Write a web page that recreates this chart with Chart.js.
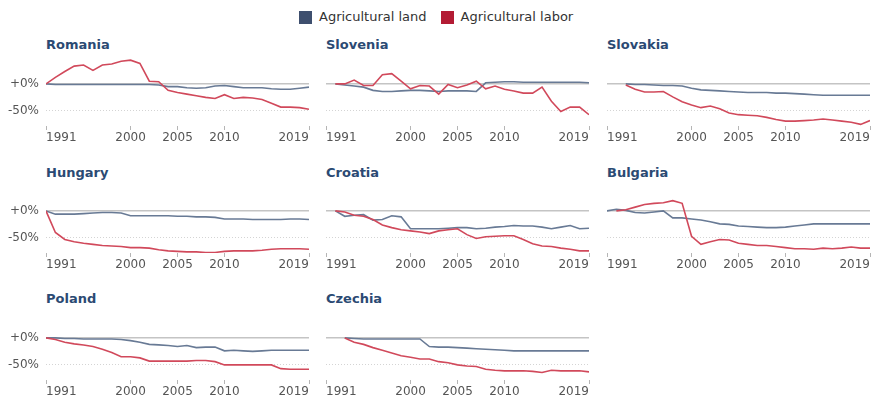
<!DOCTYPE html>
<html>
<head>
<meta charset="utf-8">
<script src="https://cdn.jsdelivr.net/npm/chart.js@4.4.0/dist/chart.umd.min.js"></script>
<style>
	body { margin: 0; width: 873px; height: 396px; overflow: hidden; background: #fff; position: relative; font-family: "DejaVu Sans", sans-serif; }
	canvas { position: absolute; }
	.ttl { position: absolute; font-weight: bold; font-size: 13px; line-height: 15px; color: #2b4a73; white-space: nowrap; }
	#legend { position: absolute; left: 299px; top: 9px; display: flex; align-items: center; font-size: 13px; line-height: 16px; color: #333; white-space: nowrap; }
	#legend .sw { width: 13px; height: 13px; margin-right: 7px; }
</style>
</head>
<body>
<div id="legend">
	<span class="sw" style="background:#3e4f6e"></span><span style="margin-right:14px">Agricultural land</span>
	<span class="sw" style="background:#b31b34"></span><span>Agricultural labor</span>
</div>

<div class="ttl" style="left:46px;top:37px">Romania</div>
<div class="ttl" style="left:326px;top:37px">Slovenia</div>
<div class="ttl" style="left:607px;top:37px">Slovakia</div>
<div class="ttl" style="left:46px;top:165px">Hungary</div>
<div class="ttl" style="left:326px;top:165px">Croatia</div>
<div class="ttl" style="left:607px;top:165px">Bulgaria</div>
<div class="ttl" style="left:46px;top:291px">Poland</div>
<div class="ttl" style="left:326px;top:291px">Czechia</div>

<canvas id="romania" width="311" height="90" style="left:0px;top:56px"></canvas>
<canvas id="slovenia" width="311" height="90" style="left:280px;top:56px"></canvas>
<canvas id="slovakia" width="311" height="90" style="left:561px;top:56px"></canvas>
<canvas id="hungary" width="311" height="90" style="left:0px;top:183px"></canvas>
<canvas id="croatia" width="311" height="90" style="left:280px;top:183px"></canvas>
<canvas id="bulgaria" width="311" height="90" style="left:561px;top:183px"></canvas>
<canvas id="poland" width="311" height="90" style="left:0px;top:310px"></canvas>
<canvas id="czechia" width="311" height="90" style="left:280px;top:310px"></canvas>

<script>
// change since 1991 (%), one value per year, null = no data
var years = [1991, 1992, 1993, 1994, 1995, 1996, 1997, 1998, 1999, 2000,
	2001, 2002, 2003, 2004, 2005, 2006, 2007, 2008, 2009, 2010,
	2011, 2012, 2013, 2014, 2015, 2016, 2017, 2018, 2019];
var xTicks = [1991, 2000, 2005, 2010, 2019];
var yTicks = [-50, 0];

var romaniaLand = [0, -1, -1, -1, -1, -1, -1, -1, -1, -1, -1, -1, -2, -5, -5, -7, -8, -7, -4, -3, -5, -7, -7, -7, -9, -10, -10, -8, -6];
var romaniaLabor = [0, 12, 23, 33, 35, 25, 35, 37, 42, 44, 38, 5, 4, -12, -16, -19, -22, -25, -27, -20, -27, -25, -26, -29, -36, -43, -43, -44, -47];

var sloveniaLand = [null, 0, -2, -4, -6, -12, -14, -14, -13, -12, -12, -13, -14, -13, -13, -13, -14, 2, 3, 4, 4, 3, 3, 3, 3, 3, 3, 3, 2];
var sloveniaLabor = [null, 0, 0, 7, -3, -3, 17, 19, 5, -9, -3, -4, -19, -1, -7, -2, 5, -9, -4, -10, -13, -17, -17, -6, -32, -51, -43, -43, -57];

var slovakiaLand = [null, null, 0, -1, -1, -2, -3, -3, -4, -8, -11, -12, -13, -14, -15, -16, -16, -16, -17, -17, -18, -19, -20, -21, -21, -21, -21, -21, -21];
var slovakiaLabor = [null, null, -2, -10, -15, -15, -14, -24, -33, -39, -44, -41, -46, -54, -57, -58, -59, -62, -66, -69, -69, -68, -67, -65, -67, -69, -71, -75, -68];

var hungaryLand = [0, -6, -6, -6, -5, -4, -3, -3, -4, -9, -9, -9, -9, -9, -10, -10, -11, -11, -12, -15, -15, -15, -16, -16, -16, -16, -15, -15, -16];
var hungaryLabor = [0, -40, -53, -57, -60, -62, -64, -65, -66, -68, -68, -69, -72, -74, -75, -76, -76, -77, -77, -75, -74, -74, -74, -73, -71, -70, -70, -70, -71];

var croatiaLand = [null, 0, -10, -8, -7, -17, -16, -9, -11, -33, -33, -33, -33, -32, -31, -31, -33, -32, -30, -29, -27, -28, -28, -30, -33, -30, -27, -33, -32];
var croatiaLabor = [null, 0, -2, -8, -10, -16, -26, -31, -35, -37, -39, -42, -37, -35, -33, -44, -51, -48, -47, -46, -46, -53, -61, -65, -66, -69, -71, -74, -74];

var bulgariaLand = [0, 3, 1, -3, -4, -2, 0, -13, -13, -15, -17, -20, -24, -25, -28, -29, -30, -31, -31, -30, -28, -26, -24, -24, -24, -24, -24, -24, -24];
var bulgariaLabor = [null, 0, 2, 7, 12, 14, 15, 19, 14, -47, -62, -57, -53, -54, -60, -62, -64, -64, -66, -68, -70, -70, -71, -69, -70, -69, -67, -69, -69];

var polandLand = [0, 0, -1, -1, -2, -2, -2, -2, -3, -5, -8, -12, -13, -14, -16, -14, -18, -17, -17, -24, -23, -24, -25, -24, -23, -23, -23, -23, -23];
var polandLabor = [0, -3, -8, -11, -13, -16, -21, -27, -35, -35, -37, -43, -43, -43, -43, -43, -42, -42, -44, -50, -50, -50, -50, -50, -50, -57, -58, -58, -58];

var czechiaLand = [null, null, 0, -1, -2, -2, -2, -2, -2, -2, -2, -16, -17, -17, -18, -19, -20, -21, -22, -23, -24, -24, -24, -24, -24, -24, -24, -24, -24];
var czechiaLabor = [null, null, 0, -8, -12, -18, -23, -28, -33, -36, -39, -39, -44, -46, -50, -52, -53, -58, -60, -61, -61, -61, -62, -64, -60, -61, -61, -61, -63];

var landColor = '#687a95';
var laborColor = '#d1495b';

function toPoints(arr) {
	return arr.map(function (v, i) { return { x: years[i], y: v }; });
}

function drawPanel(id, land, labor, showY) {
	new Chart(document.getElementById(id), {
		type: 'line',
		data: {
			datasets: [{
				label: 'Agricultural labor',
				data: toPoints(labor),
				borderColor: laborColor,
				borderWidth: 1.6,
				pointRadius: 0,
				tension: 0
			}, {
				label: 'Agricultural land',
				data: toPoints(land),
				borderColor: landColor,
				borderWidth: 1.6,
				pointRadius: 0,
				tension: 0
			}]
		},
		options: {
			responsive: false,
			animation: false,
			devicePixelRatio: 1,
			layout: { padding: { top: 2, right: 2, bottom: 0, left: 0 } },
			scales: {
				x: {
					type: 'linear',
					min: 1991,
					max: 2019,
					afterBuildTicks: function (s) { s.ticks = xTicks.map(function (v) { return { value: v }; }); },
					afterFit: function (s) { s.height = 20; s.paddingLeft = 0; s.paddingRight = 0; },
					border: { display: false },
					grid: {
						drawOnChartArea: false,
						drawTicks: true,
						tickLength: 4,
						tickColor: '#b5b5b5'
					},
					ticks: {
						align: 'inner',
						autoSkip: false,
						maxRotation: 0,
						padding: 1,
						color: '#555',
						font: { family: 'DejaVu Sans', size: 12 },
						callback: function (v) { return String(v); }
					}
				},
				y: {
					min: -78,
					max: 48,
					afterBuildTicks: function (s) { s.ticks = yTicks.map(function (v) { return { value: v }; }); },
					afterFit: function (s) { s.width = 46; s.paddingTop = 0; s.paddingBottom = 0; },
					border: {
						display: false,
						dash: function (ctx) { return (ctx.tick && ctx.tick.value === -50) ? [1, 2] : []; }
					},
					grid: {
						drawTicks: false,
						color: function (ctx) { return (ctx.tick && ctx.tick.value === 0) ? '#c4c4c4' : '#d4d4d4'; },
						lineWidth: function (ctx) { return (ctx.tick && ctx.tick.value === 0) ? 1.6 : 1; }
					},
					ticks: {
						display: showY,
						padding: 7,
						color: '#555',
						font: { family: 'DejaVu Sans', size: 12 },
						callback: function (v) { return v === 0 ? '+0%' : v + '%'; }
					}
				}
			},
			plugins: {
				legend: { display: false },
				tooltip: { enabled: false }
			}
		}
	});
}

drawPanel('romania', romaniaLand, romaniaLabor, true);
drawPanel('slovenia', sloveniaLand, sloveniaLabor, false);
drawPanel('slovakia', slovakiaLand, slovakiaLabor, false);
drawPanel('hungary', hungaryLand, hungaryLabor, true);
drawPanel('croatia', croatiaLand, croatiaLabor, false);
drawPanel('bulgaria', bulgariaLand, bulgariaLabor, false);
drawPanel('poland', polandLand, polandLabor, true);
drawPanel('czechia', czechiaLand, czechiaLabor, false);
</script>
</body>
</html>
